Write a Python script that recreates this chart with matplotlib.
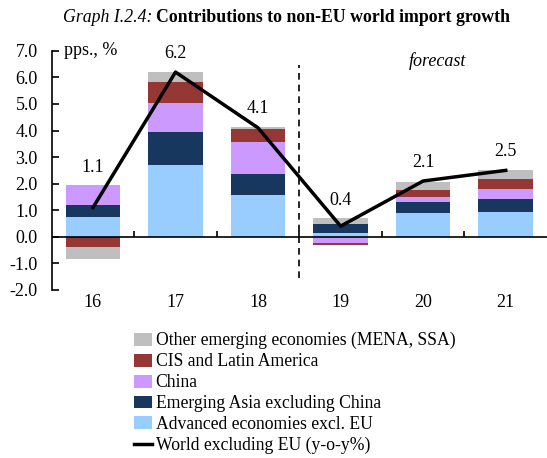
import matplotlib
matplotlib.use("Agg")

import numpy as np
import matplotlib.pyplot as plt

plt.rcParams['font.family'] = ['Liberation Serif', 'DejaVu Serif']

# data (pps.)
years = ["16", "17", "18", "19", "20", "21"]
advanced = [0.75, 2.70, 1.57, 0.15, 0.88, 0.94]
em_asia = [0.44, 1.24, 0.80, 0.35, 0.44, 0.48]
china = [0.75, 1.08, 1.19, -0.25, 0.19, 0.39]
cis_latam = [-0.38, 0.80, 0.51, -0.06, 0.25, 0.37]
other_em = [-0.44, 0.37, 0.06, 0.19, 0.31, 0.33]
world = [1.1, 6.2, 4.1, 0.4, 2.1, 2.5]

series = [
    ("Advanced economies excl. EU", advanced, "#99CCFF"),
    ("Emerging Asia excluding China", em_asia, "#17375E"),
    ("China", china, "#CC99FF"),
    ("CIS and Latin America", cis_latam, "#953735"),
    ("Other emerging economies (MENA, SSA)", other_em, "#BFBFBF"),
]

x = np.arange(len(years))
fig = plt.figure(figsize=(5.47, 4.58), dpi=100)
ax = fig.add_axes([0.0945, 0.367, 0.9055, 0.522])

#stacked bars, positives up and negatives down
pos_base = np.zeros(len(years))
neg_base = np.zeros(len(years))
bar_handles = []
for name, vals, col in series:
    vals = np.array(vals)
    base = np.where(vals >= 0, pos_base, neg_base)
    b = ax.bar(x, vals, bottom=base, width=0.66, color=col, label=name, zorder=2)
    bar_handles.append(b)
    pos_base += np.where(vals >= 0, vals, 0)
    neg_base += np.where(vals < 0, vals, 0)

line, = ax.plot(x, world, color="black", linewidth=2.5, label="World excluding EU (y-o-y%)", zorder=3)

# value labels
for xi, v, top in zip(x, world, pos_base):
    ax.annotate(f"{v:.1f}", (xi, max(top, v)), xytext=(0, 7), textcoords="offset points",
                ha="center", va="bottom", fontsize=13)

ax.set_xlim(-0.5, 5.5)
ax.set_ylim(-2, 7)
ax.set_yticks(np.arange(-2, 8, 1))
ax.set_yticklabels([f"{t:.1f}" for t in np.arange(-2, 8, 1)])
ax.tick_params(axis="y", direction="in", length=5, labelsize=13, width=1.2, pad=10)
ax.set_xticks(x)
ax.set_xticklabels(years)
ax.tick_params(axis="x", length=0, labelsize=13, pad=3)

for s in ["top", "right", "bottom"]:
    ax.spines[s].set_visible(False)
ax.spines["left"].set_linewidth(1.2)
ax.axhline(0, color="black", linewidth=1.2, zorder=4)
ax.vlines(x[:-1] + 0.5, 0, 0.2, color="black", linewidth=1.2, zorder=4)
ax.vlines(2.5, -1.55, 6.45, color="black", linestyle=(0, (4, 3)), linewidth=1.2)

ax.text(0.025, 1.0, "pps., %", transform=ax.transAxes, fontsize=13, va="center")
ax.text(4.17, 6.6, "forecast", fontsize=13, style="italic", ha="center", va="center")

fig.text(0.279, 0.961, "Graph I.2.4:", style="italic", fontsize=12.8, ha="right", va="center")
fig.text(0.285, 0.961, "Contributions to non-EU world import growth", weight="bold",
         fontsize=12.8, ha="left", va="center")

leg = fig.legend(bar_handles[::-1] + [line], [s[0] for s in series][::-1] + [line.get_label()],
                 loc="upper left", bbox_to_anchor=(0.228, 0.294), frameon=False, fontsize=12.7,
                 handlelength=1.05, handleheight=0.75, handletextpad=0.2,
                 labelspacing=0.22, borderpad=0)

fig.savefig("out.png", dpi=100)
